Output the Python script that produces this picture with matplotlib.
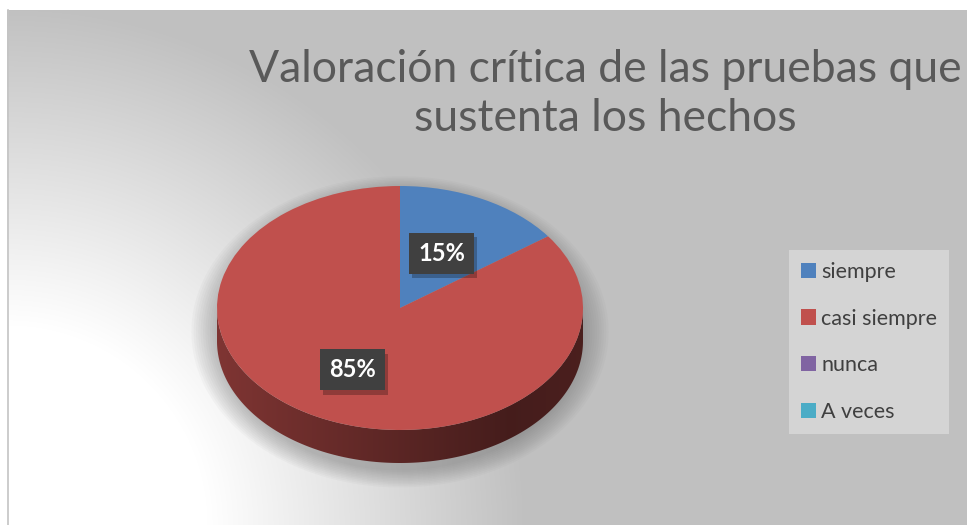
import numpy as np
import matplotlib
matplotlib.use("Agg")
import matplotlib.pyplot as plt
from matplotlib.patches import Polygon, Ellipse
from matplotlib.colors import to_rgb
import matplotlib.patheffects as pe

# ---- data ----
categories = ["siempre", "casi siempre", "nunca", "A veces"]
values = [15, 85, 0, 0]
colors = ["#4f81bd", "#c0504d", "#8064a2", "#4bacc6"]
title = "Valoración crítica de las pruebas que\nsustenta los hechos"

W, H = 967, 525
fig = plt.figure(figsize=(W / 100, H / 100), dpi=100)
fig.patch.set_facecolor("white")

# ---- background (radial gradient) ----
bg = fig.add_axes([0, 0, 1, 1])
bg.set_xlim(0, W)
bg.set_ylim(H, 0)
bg.axis("off")
yy, xx = np.mgrid[10:H, 7:W]
r = np.hypot(xx - 7, yy - H)
t = np.clip((r - 200) / 320, 0, 1)
val = 255 - (255 - 192) * t
img = np.dstack([val, val, val]) / 255.0
bg.imshow(img, extent=(7, W, H, 10), aspect="auto", zorder=0)
bg.plot([7.5, 7.5], [10, H], color="#c4c4c4", lw=1.2, zorder=1)

# ---- pie axes (unit circle shown as ellipse) ----
cx, cy, a, b = 400, 308, 183, 122
L, Lt, Lb = 1.3, 1.3, 1.7
left = cx - L * a
top = cy - Lt * b
wpx = 2 * L * a
hpx = (Lt + Lb) * b
ax = fig.add_axes([left / W, (H - (top + hpx)) / H, wpx / W, hpx / H])
ax.set_xlim(-L, L)
ax.set_ylim(-Lb, Lt)
ax.axis("off")
ax.patch.set_alpha(0)

depth = 33 / b

# soft shadow
for s in np.linspace(1.14, 1.0, 12):
    ax.add_patch(Ellipse((0.0, -depth / 2 - 0.06), 2 * s, 2 * s + depth, facecolor="#5a5a5a",
                         alpha=0.035, edgecolor="none", zorder=1))

# side of the cylinder (bottom half)
th = np.linspace(np.pi, 2 * np.pi, 200)
xs = np.cos(th)
ys = np.sin(th)
side_pts = np.concatenate([np.column_stack([xs, ys]), np.column_stack([xs[::-1], ys[::-1] - depth])])
side = Polygon(side_pts, closed=True, facecolor="none", edgecolor="none", zorder=2)
ax.add_patch(side)
base = np.array(to_rgb(colors[1]))
gx = np.linspace(-1, 1, 300)
shade = 0.66 - 0.30 * np.clip((gx + 1) / 1.6, 0, 1)
shade = np.where(gx > 0.6, 0.36 + 0.03 * (gx - 0.6) / 0.4, shade)
grad = base[None, None, :] * shade[None, :, None]
grad = np.repeat(grad, 2, axis=0)
im = ax.imshow(grad, extent=(-1, 1, -1 - depth, 0), aspect="auto", zorder=2)
im.set_clip_path(side)

# top face
wedges, _ = ax.pie(values, colors=colors, startangle=90, counterclock=False, radius=1,
                   wedgeprops=dict(linewidth=0))
ax.set_aspect("auto")
ax.set_xlim(-L, L)
ax.set_ylim(-Lb, Lt)
for w in wedges:
    w.set_zorder(3)

# data labels
total = sum(values)
dist = [0.5, 0.57]
k = 0
for w, v in zip(wedges, values):
    if v == 0:
        continue
    ang = np.deg2rad((w.theta1 + w.theta2) / 2)
    d = dist[k]
    k += 1
    px, py = d * np.cos(ang), d * np.sin(ang)
    lab = f"{v / total * 100:.0f}%"
    tx = ax.text(px, py, lab, ha="center", va="center",
                 fontsize=17, fontweight="bold", color="white", family="Lato", zorder=5,
                 bbox=dict(boxstyle="square,pad=0.38", facecolor="#404040", edgecolor="none"))
    tx.get_bbox_patch().set_path_effects([
        pe.SimplePatchShadow(offset=(2, -3), shadow_rgbFace="black", alpha=0.25), pe.Normal()])

# ---- title ----
fig.text(605 / W, 1 - 94 / H, title, ha="center", va="center", fontsize=32, color="#595959",
         family="Lato", linespacing=1.25)

# ---- legend ----
leg = fig.legend(wedges, categories, loc="center left", bbox_to_anchor=(789 / W, 1 - 342 / H),
                 frameon=True, fancybox=False, labelspacing=1.25,
                 handlelength=0.7, handleheight=0.7, handletextpad=0.25, borderpad=0.55,
                 borderaxespad=0, prop=dict(family="Lato", size=15.5))
leg.get_frame().set_facecolor("#d4d4d4")
leg.get_frame().set_edgecolor("none")
leg.get_frame().set_alpha(1)
for txt in leg.get_texts():
    txt.set_color("#404040")

fig.savefig("out.png", dpi=100)
